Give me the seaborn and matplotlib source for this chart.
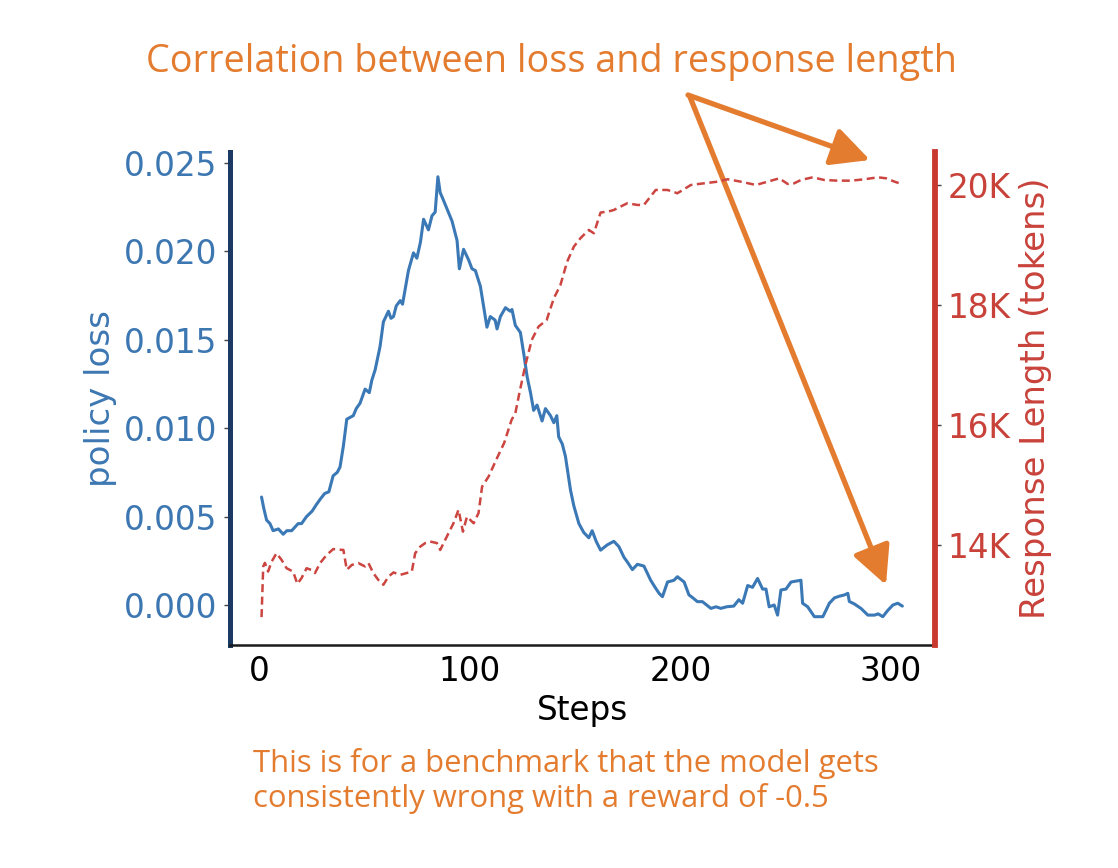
import matplotlib
matplotlib.use("Agg")
import matplotlib.pyplot as plt
import seaborn as sns
import pandas as pd
from matplotlib.ticker import FuncFormatter

# policy loss (blue, left axis)
loss_steps = [1, 2, 3.4, 5, 6.5, 9, 11.3, 13, 15.3, 18.4, 20, 22.4, 25, 27.2, 29, 31, 33, 35, 37, 38.3,
              39.9, 41.5, 43, 44.6, 46, 47.8, 50.2, 52.2, 53.4, 55, 57.3, 58.9, 61.3, 62.5, 63.7, 65, 66.9, 68,
              70.8, 73.2, 74.8, 76.5, 78, 80.3, 82, 83.5, 84.8, 85.9, 87, 89.1, 91.5, 93.9, 95, 97, 99.4, 101,
              102.6, 103.4, 105, 106.5, 108.1, 109.7, 112, 112.9, 114.5, 116.9, 119.2, 120, 121.6, 124, 125.6,
              127.2, 128.8, 130.3, 131.9, 134.3, 135.9, 138.3, 139.9, 141.3, 142.2, 143.9, 145.4, 147.8, 149.4,
              151.8, 154.1, 156.5, 158.1, 160, 162.1, 165.3, 168.4, 170.8, 173.2, 175, 177.2, 179.6, 182.7,
              185.9, 188, 189.9, 191.5, 193.9, 197, 198.6, 201.8, 204.1, 206, 208.1, 210.5, 212.5, 214.5, 217,
              219.2, 222, 225.4, 227.8, 229.6, 232, 234.3, 236.7, 239.1, 240.7, 242.2, 244.6, 246.2, 247.8,
              250.2, 252.6, 257.3, 258.1, 260.5, 263.7, 267.7, 269.2, 270.8, 273.2, 275.6, 278, 279.6, 280.3,
              282.7, 285.9, 289.1, 292.3, 294, 296.2, 298.6, 301, 303.3, 305.5]
loss_vals = [0.0061, 0.0055, 0.0048, 0.0046, 0.0042, 0.0043, 0.0040, 0.0042, 0.0042, 0.0046, 0.0046, 0.0050,
             0.0053, 0.0057, 0.0060, 0.0063, 0.0064, 0.0073, 0.0075, 0.0078, 0.0090, 0.0105, 0.0106, 0.0107,
             0.0111, 0.0114, 0.0122, 0.0120, 0.0127, 0.0133, 0.0146, 0.0160, 0.0166, 0.0162, 0.0163, 0.0169,
             0.0172, 0.0170, 0.0189, 0.0199, 0.0196, 0.0205, 0.0218, 0.0212, 0.0220, 0.0222, 0.0242, 0.0233,
             0.0230, 0.0224, 0.0217, 0.0206, 0.0190, 0.0201, 0.0195, 0.0190, 0.0189, 0.0186, 0.0180, 0.0169,
             0.0157, 0.0163, 0.0161, 0.0156, 0.0163, 0.0168, 0.0166, 0.0167, 0.0158, 0.0154, 0.0142, 0.0129,
             0.0120, 0.0110, 0.0113, 0.0104, 0.0111, 0.0107, 0.0103, 0.0107, 0.0095, 0.0091, 0.0084, 0.0065,
             0.0056, 0.0046, 0.0041, 0.0038, 0.0042, 0.0036, 0.0031, 0.0034, 0.0036, 0.0033, 0.0027, 0.0024,
             0.0020, 0.0023, 0.0022, 0.0014, 0.0010, 0.00066, 0.00047, 0.0013, 0.0014, 0.0016, 0.0013, 0.00057,
             0.0004, 0.00019, 0.00019, 0.0, -0.00019, -0.0001, -0.00019, -0.0001, -0.00006, 0.0003, 0.0001,
             0.0011, 0.0010, 0.0015, 0.0009, 0.0009, -0.0001, 0.0, -0.00057, 0.00085, 0.0009, 0.0013, 0.0014,
             0.0001, -0.0001, -0.00066, -0.00066, -0.0003, 0.0001, 0.0004, 0.0005, 0.00057, 0.00066, 0.0002,
             0.00006, -0.0002, -0.00057, -0.00057, -0.0005, -0.00066, -0.0003, 0.0, 0.0001, -0.00006]

# response length (red dashed, right axis)
len_steps = [1, 1.8, 2.6, 4.1, 5.8, 8.1, 10.5, 12.9, 16, 18, 20, 22.4, 24.8, 26.4, 28.8, 31.9, 35.1, 37.5,
             39.9, 41.5, 43.9, 47, 50.2, 51.8, 54.1, 56.5, 58.9, 61.3, 63.7, 66.9, 70, 72.4, 74, 76.4, 78.8,
             81.1, 84.3, 85.9, 88.3, 92.2, 94.6, 96.7, 98.6, 101.8, 104.1, 105.8, 108.9, 112.8, 116.3, 119.8,
             121.6, 123.5, 126.2, 129.4, 132.6, 136.5, 139.9, 143, 146.2, 149.4, 152.5, 156.5, 158.9, 162.1,
             166, 168.4, 170, 174.8, 179.6, 182.7, 188.3, 193.9, 198.6, 205, 211.3, 217.7, 222.4, 228.8, 235.9,
             241.5, 247, 251, 254.1, 257.3, 262.9, 268.4, 274.8, 281.2, 287.5, 293.9, 297.8, 301.8, 305]
len_vals = [12795, 13640, 13700, 13555, 13720, 13860, 13750, 13610, 13555, 13350, 13445, 13610, 13580, 13530,
            13695, 13830, 13930, 13920, 13915, 13585, 13665, 13695, 13640, 13695, 13530, 13415, 13335, 13470,
            13540, 13500, 13530, 13555, 13860, 13970, 14030, 14055, 14030, 13915, 14085, 14360, 14585, 14220,
            14470, 14360, 14530, 14970, 15140, 15440, 15700, 16083, 16195, 16528, 16972, 17417, 17638, 17750,
            18112, 18330, 18720, 18972, 19112, 19250, 19195, 19540, 19560, 19583, 19612, 19695, 19667, 19667,
            19917, 19917, 19862, 20000, 20028, 20055, 20095, 20055, 20000, 20055, 20111, 20017, 20028, 20083,
            20128, 20083, 20072, 20072, 20095, 20128, 20111, 20055, 20017]

x_ticks = [0, 100, 200, 300]
loss_ticks = [0.000, 0.005, 0.010, 0.015, 0.020, 0.025]
len_ticks = [14000, 16000, 18000, 20000]

title = "Correlation between loss and response length"
note = "This is for a benchmark that the model gets\nconsistently wrong with a reward of -0.5"

BLUE = "#3a78b6"
BLUE_TXT = "#3d77b2"
NAVY = "#1b3a63"
RED = "#cc4540"
RED_TXT = "#c8423a"
ORANGE = "#e47c30"

sns.set_style("white")
plt.rcParams["font.family"] = ["DejaVu Sans"]

df_loss = pd.DataFrame({"step": loss_steps, "loss": loss_vals})
df_len = pd.DataFrame({"step": len_steps, "length": len_vals})

fig = plt.figure(figsize=(11.18, 8.68), dpi=100)
ax = fig.add_axes([0.2057, 0.2569, 0.6306, 0.568])
ax2 = ax.twinx()

sns.lineplot(data=df_loss, x="step", y="loss", ax=ax, color=BLUE, linewidth=2.2,
             estimator=None, sort=False)
sns.lineplot(data=df_len, x="step", y="length", ax=ax2, color=RED, linewidth=1.8,
             estimator=None, sort=False, dashes=False, linestyle=(0, (3.2, 1.8)))

ax.set_xlim(-14, 321)
ax.set_ylim(-0.00226, 0.0256)
ax2.set_ylim(12330, 20550)

ax.set_xticks(x_ticks)
ax.set_yticks(loss_ticks)
ax.set_yticklabels([f"{v:.3f}" for v in loss_ticks])
ax2.set_yticks(len_ticks)
ax2.yaxis.set_major_formatter(FuncFormatter(lambda v, p: f"{int(v / 1000)}K"))

fs = 23.5
ax.set_xlabel("Steps", fontsize=fs, color="black", labelpad=4)
ax.set_ylabel("policy loss", fontsize=24.5, color=BLUE_TXT, labelpad=5)
ax2.set_ylabel("Response Length (tokens)", fontsize=24.5, color=RED_TXT, labelpad=6)

ax.tick_params(axis="x", labelsize=fs, colors="#333333", labelcolor="black", length=4, width=1)
ax.tick_params(axis="y", labelsize=fs, colors="#444444", labelcolor=BLUE_TXT, length=4, width=1, pad=5)
ax2.tick_params(axis="y", labelsize=fs, colors="#444444", labelcolor=RED_TXT, length=4, width=1, pad=5)

for a in (ax, ax2):
    for s in a.spines.values():
        s.set_visible(False)
ax.spines["left"].set_visible(True)
ax.spines["left"].set_color(NAVY)
ax.spines["left"].set_linewidth(3.6)
ax.spines["bottom"].set_visible(True)
ax.spines["bottom"].set_color("#1a1a1a")
ax.spines["bottom"].set_linewidth(1.8)
ax2.spines["right"].set_visible(True)
ax2.spines["right"].set_color("#c9392f")
ax2.spines["right"].set_linewidth(4.2)

# annotations in figure pixels
fig.text(552 / 1118, 1 - 62 / 868, title, fontsize=27.2, color=ORANGE, family="Open Sans",
         ha="center", va="center")
fig.text(253 / 1118, 1 - 781 / 868, note, fontsize=22.3, color=ORANGE, family="Open Sans",
         ha="left", va="center", linespacing=1.18)

arrow_kw = dict(arrowstyle="-|>,head_length=1.3,head_width=0.65", color=ORANGE, lw=3.8,
                shrinkA=0, shrinkB=0, mutation_scale=18)
ax.annotate("", xy=(870, 868 - 160), xytext=(688, 868 - 95), xycoords="figure pixels",
            textcoords="figure pixels", arrowprops=arrow_kw, annotation_clip=False)
ax.annotate("", xy=(886, 868 - 585), xytext=(690, 868 - 97), xycoords="figure pixels",
            textcoords="figure pixels", arrowprops=arrow_kw, annotation_clip=False)

fig.savefig("out.png", dpi=100, facecolor="white")
